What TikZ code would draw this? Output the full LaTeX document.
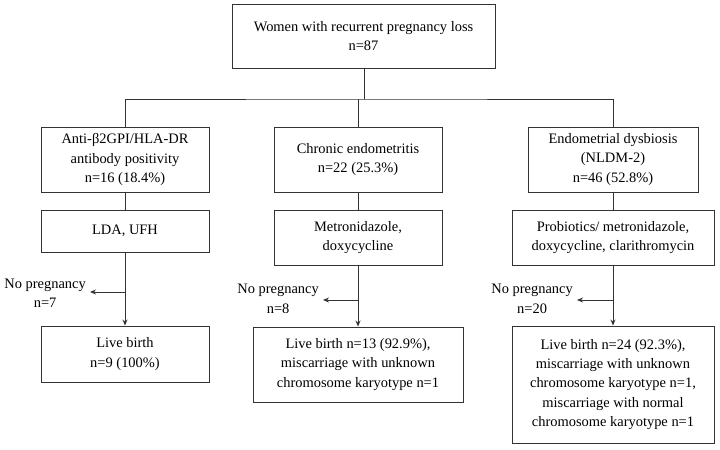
\documentclass[tikz,border=0pt]{standalone}
\usepackage{fontspec}
\setmainfont{Liberation Serif}
\usetikzlibrary{arrows.meta}
\begin{document}
\begin{tikzpicture}[x=1bp,y=-1bp,
  box/.style={draw=black!80, line width=0.9bp, rectangle, inner sep=0pt, align=center,
    font=\fontsize{14.5}{19.5}\selectfont},
  lab/.style={inner sep=2bp, align=center, anchor=east, font=\fontsize{14.5}{19.5}\selectfont},
  con/.style={draw=black!80, line width=0.9bp},
  arr/.style={con, -{Stealth[length=6bp,width=5bp]}}]
\useasboundingbox (0,0) rectangle (720,450);
\node[box, minimum width=263bp, minimum height=64bp] (top) at (363.5,36) {Women with recurrent pregnancy loss\\n=87};
\node[box, minimum width=168bp, minimum height=65bp] (b1) at (125,159.5) {Anti-β2GPI/HLA-DR\\antibody positivity\\n=16 (18.4\%)};
\node[box, minimum width=168bp, minimum height=65bp] (b2) at (358,159.5) {Chronic endometritis\\n=22 (25.3\%)};
\node[box, minimum width=170bp, minimum height=65bp] (b3) at (613,159.5) {Endometrial dysbiosis\\(NLDM-2)\\n=46 (52.8\%)};
\node[box, minimum width=168bp, minimum height=42bp] (t1) at (125,231) {LDA, UFH};
\node[box, minimum width=168bp, minimum height=55bp] (t2) at (358,237.5) {Metronidazole,\\doxycycline};
\node[box, minimum width=202bp, minimum height=55bp] (t3) at (613,237.5) {Probiotics/ metronidazole,\\doxycycline, clarithromycin};
\node[box, minimum width=168bp, minimum height=56bp] (o1) at (125,354) {Live birth\\n=9 (100\%)};
\node[box, minimum width=210bp, minimum height=75bp] (o2) at (358,364.5) {Live birth n=13 (92.9\%),\\miscarriage with unknown\\chromosome karyotype n=1};
\node[box, minimum width=202bp, minimum height=117bp] (o3) at (613,384.5) {Live birth n=24 (92.3\%),\\miscarriage with unknown\\chromosome karyotype n=1,\\miscarriage with normal\\chromosome karyotype n=1};
\coordinate (hub) at (364,99);
\draw[con] (top.south -| hub) -- (hub);
\draw[con] (b1.north) |- (hub) -| (b3.north);
\draw[con] (b2.north) -- (b2.north |- hub);
\draw[con] (b1) -- (t1);
\draw[con] (b2) -- (t2);
\draw[con] (b3) -- (t3);
\draw[arr] (t1) -- (o1);
\draw[arr] (t2) -- (o2);
\draw[arr] (t3) -- (o3);
\coordinate (j1) at (125,292);
\coordinate (e1) at (90,292);
\coordinate (j2) at (358,300);
\coordinate (e2) at (323,300);
\coordinate (j3) at (613,300);
\coordinate (e3) at (577,300);
\draw[arr] (j1) -- (e1);
\draw[arr] (j2) -- (e2);
\draw[arr] (j3) -- (e3);
\node[lab] (n1) at (88,293) {No pregnancy\\n=7};
\node[lab] (n2) at (321,299) {No pregnancy\\n=8};
\node[lab] (n3) at (575,299) {No pregnancy\\n=20};
\end{tikzpicture}
\end{document}
